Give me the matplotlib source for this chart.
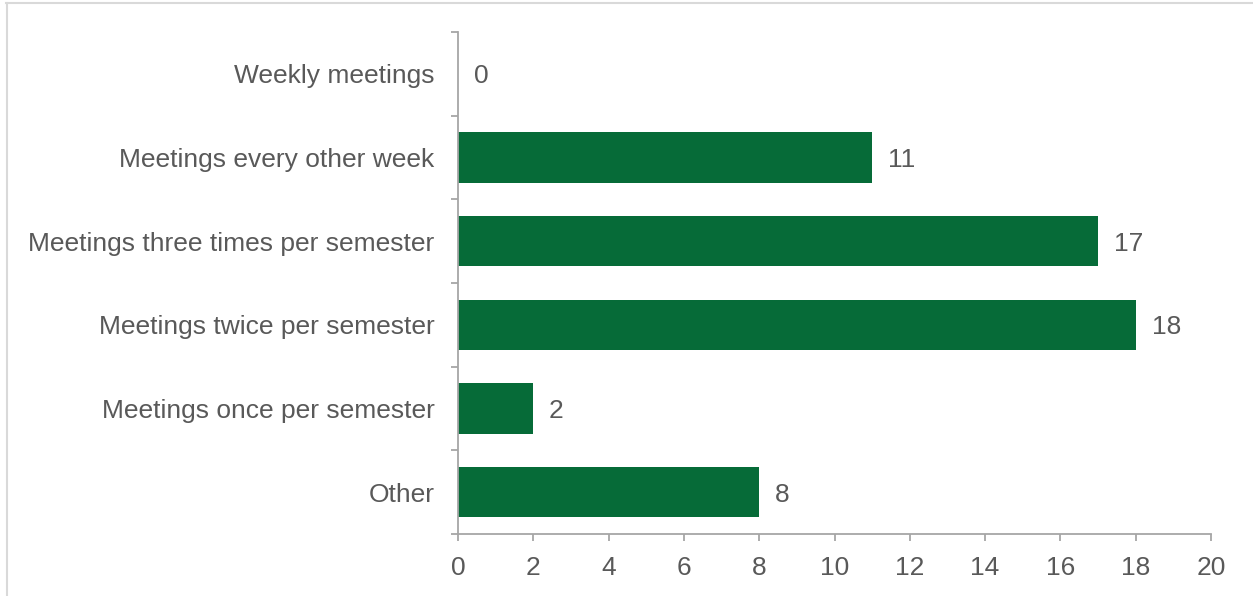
import numpy as np
import matplotlib.pyplot as plt
from matplotlib.lines import Line2D

plt.rcParams['font.family'] = ['Liberation Sans', 'DejaVu Sans']

# Datos
categorias = ['Weekly meetings', 'Meetings every other week',
              'Meetings three times per semester', 'Meetings twice per semester',
              'Meetings once per semester', 'Other']
valores = [0, 11, 17, 18, 2, 8]
ticks_x = [0, 2, 4, 6, 8, 10, 12, 14, 16, 18, 20]

verde = '#066B38'
gris_texto = '#595959'
gris_eje = '#A6A6A6'

fig = plt.figure(figsize=(12.53, 5.96), dpi=100)
ax = fig.add_axes([458 / 1253, 1 - 534 / 596, (1211 - 458) / 1253, (534 - 32) / 596])

y = np.arange(len(categorias))
ax.barh(y, valores, height=0.6, color=verde)

for yi, v in zip(y, valores):
    ax.text(v + 0.42, yi, str(v), va='center_baseline', ha='left', fontsize=19, color=gris_texto)

ax.set_xlim(0, 20)
ax.set_ylim(len(categorias) - 0.5, -0.5)
ax.set_xticks(ticks_x)
ax.set_yticks(y)
ax.set_yticklabels(categorias)
ax.set_yticks(np.arange(-0.5, len(categorias)), minor=True)

ax.tick_params(axis='y', which='major', length=0, pad=17, labelsize=19, labelcolor=gris_texto)
ax.tick_params(axis='y', which='minor', length=5, width=1.3, color=gris_eje)
ax.tick_params(axis='x', length=5, width=1.3, color=gris_eje, pad=11, labelsize=19, labelcolor=gris_texto)

for s in ['top', 'right']:
    ax.spines[s].set_visible(False)
for s in ['left', 'bottom']:
    ax.spines[s].set_color(gris_eje)
    ax.spines[s].set_linewidth(1.3)

# Borde del gráfico
fig.add_artist(Line2D([6 / 1253, 1], [1 - 2.5 / 596, 1 - 2.5 / 596], color='#D9D9D9', lw=1.5))
fig.add_artist(Line2D([6.5 / 1253, 6.5 / 1253], [0, 1 - 2.5 / 596], color='#D9D9D9', lw=1.5))

plt.savefig('out.png', dpi=100)
